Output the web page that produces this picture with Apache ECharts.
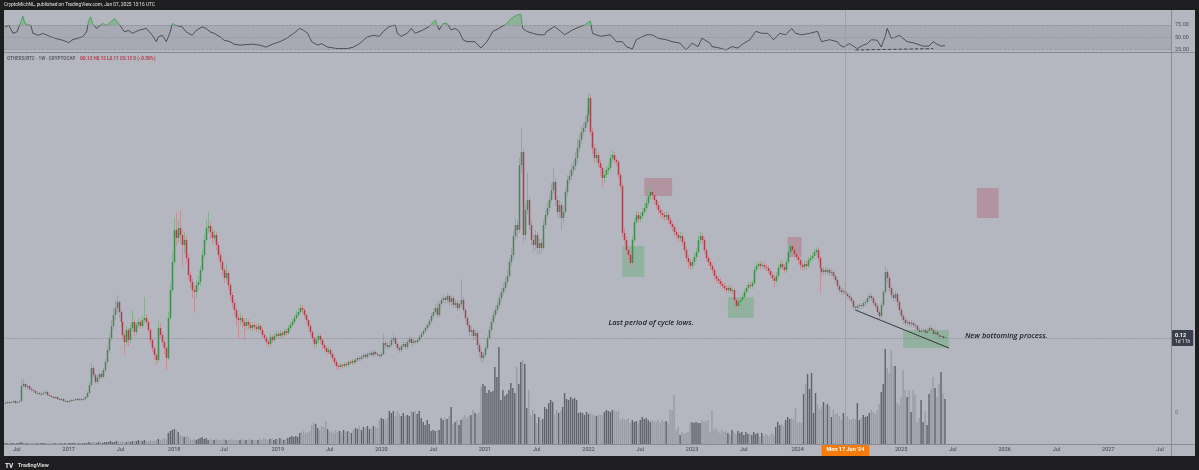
<!DOCTYPE html>
<html><head><meta charset="utf-8">
<script src="https://cdn.jsdelivr.net/npm/echarts@6/dist/echarts.min.js"></script>
<style>
html,body{margin:0;padding:0;background:#1e1e20;width:1199px;height:470px;overflow:hidden}
#bg{position:absolute;left:4px;top:10px;width:1191px;height:446px;background:#b4b7bf}
#chart{position:absolute;left:0;top:0;width:1199px;height:470px}
</style></head><body><div id="bg"></div><div id="chart"></div>
<script>
// ---- axis / time ----
const startMonday = '2016-05-16';   // first weekly candle
const axisWeeks = 586;              // axis runs on to autumn 2027
const tickDates  = ['2016-07-01','2017-01-01','2017-07-01','2018-01-01','2018-07-01','2019-01-01','2019-07-01','2020-01-01','2020-07-01','2021-01-01','2021-07-01','2022-01-01','2022-07-01','2023-01-01','2023-07-01','2024-01-01','2024-07-01','2025-01-01','2025-07-01','2026-01-01','2026-07-01','2027-01-01','2027-07-01'];
const tickLabels = ['Jul','2017','Jul','2018','Jul','2019','Jul','2020','Jul','2021','Jul','2022','Jul','2023','Jul','2024','Jul','2025','Jul','2026','Jul','2027','Jul'];

// ---- OTHERS/BTC weekly prices, in thousandths (x1000) ----
const firstOpenMilli = 55;
const closeMilli = [
55,56,55,56,57,55,56,57,72,74,71,72,69,68,67,65,65,64,64,65,
66,63,62,61,60,61,59,58,59,57,57,56,57,58,58,59,58,59,58,59,
61,65,73,90,83,76,80,84,81,88,96,108,120,132,143,150,156,146,136,123,
116,128,118,130,136,126,133,136,132,138,140,136,128,118,110,103,98,130,123,116,
110,100,140,168,196,228,220,230,223,213,218,200,183,176,168,166,173,176,188,203,
218,230,232,226,220,223,213,203,196,188,180,185,173,163,155,148,140,138,140,136,
132,136,133,130,133,131,129,132,128,123,120,116,114,121,118,122,124,122,125,123,
127,125,130,133,136,140,143,146,150,148,143,138,132,126,120,114,118,122,118,113,
110,106,108,104,100,96,92,91,93,92,94,93,96,95,97,96,98,100,99,101,
103,101,104,105,103,106,104,103,102,104,115,113,111,113,118,120,114,110,108,112,
114,111,116,119,115,117,116,118,121,124,127,130,133,137,142,146,150,143,154,158,
160,158,162,156,160,153,155,150,154,158,148,140,133,126,128,122,125,113,106,100,
103,110,120,128,136,143,148,153,160,166,170,176,182,196,203,222,233,228,293,306,
223,248,258,233,218,213,223,210,215,210,233,243,250,258,268,276,258,246,253,240,
246,266,278,282,288,292,300,310,318,326,330,336,343,360,326,310,300,303,295,290,
280,283,288,290,300,303,298,296,283,272,225,218,208,203,195,218,236,243,239,242,
246,250,255,262,266,263,258,253,248,245,243,241,243,238,234,231,226,223,220,222,
216,208,200,196,192,196,201,206,218,222,218,208,200,196,192,188,182,179,177,174,
172,170,168,170,167,168,158,152,156,158,161,166,170,173,172,175,188,192,194,192,
193,191,190,187,183,180,177,182,190,194,191,188,196,206,212,208,204,201,198,193,
191,194,192,198,200,202,206,208,200,190,186,188,186,188,185,186,182,178,172,168,
166,167,164,162,160,157,151,150,152,153,152,155,156,160,162,160,155,152,146,142,
153,166,186,180,170,163,160,164,156,148,142,138,135,136,134,135,133,132,128,126,
127,128,125,127,130,128,124,126,123,121,122,120,121];
const highMilli = [
57,57,57,57,58,58,57,58,78,79,75,74,73,71,69,68,67,66,66,67,
68,67,64,63,62,62,62,60,60,60,58,58,58,59,59,60,60,60,60,60,
62,67,76,95,92,85,83,86,86,90,99,112,124,138,150,158,163,158,148,138,
126,132,130,134,148,139,136,140,139,142,161,144,138,130,120,112,105,137,135,126,
119,112,146,175,205,240,246,238,248,228,226,222,204,186,180,172,178,182,192,208,
224,238,246,236,230,228,226,216,206,199,191,195,187,175,166,158,150,144,145,143,
139,140,139,136,136,136,134,135,134,130,125,122,118,124,123,125,127,126,128,127,
130,129,133,136,139,143,147,150,154,153,150,145,140,134,128,122,121,125,124,120,
115,112,111,110,106,102,98,94,95,95,96,96,98,98,99,99,100,102,102,103,
105,105,106,107,107,108,108,106,105,106,125,118,116,116,121,125,122,116,112,114,
117,116,118,122,121,120,119,120,123,126,129,132,135,139,145,149,154,158,157,161,
163,162,165,164,163,162,158,158,157,179,161,150,142,136,132,130,128,127,115,108,
106,113,123,132,140,147,152,157,164,170,175,181,188,200,210,228,240,238,300,330,
310,255,285,262,238,224,228,226,220,219,238,248,256,264,275,290,280,262,258,256,
252,270,283,288,294,298,306,320,324,332,336,342,350,365,363,330,314,310,306,298,
292,288,292,295,304,308,306,301,298,286,275,230,222,212,206,222,240,247,246,246,
250,255,260,268,271,270,266,261,256,251,248,246,247,246,241,237,233,229,226,226,
225,219,211,203,199,200,205,210,222,226,225,221,211,203,199,195,190,185,182,180,
177,175,173,173,173,171,170,160,159,161,164,169,173,176,176,178,191,195,197,197,
196,196,194,193,189,186,183,186,193,198,197,194,200,212,216,215,211,207,204,200,
196,198,197,201,203,205,209,211,210,202,193,191,191,191,190,189,188,184,180,174,
170,170,169,166,164,162,159,153,154,155,155,157,158,162,165,164,162,157,154,148,
156,169,191,189,183,173,166,167,166,158,150,144,140,139,138,138,137,135,134,130,
130,131,130,130,133,132,130,129,128,125,124,124,123];
const lowMilli = [
54,54,54,55,55,54,54,55,56,70,69,69,67,66,65,64,63,63,62,63,
64,62,61,60,59,59,58,57,57,56,56,55,55,56,57,57,57,57,57,57,
58,60,64,72,80,74,74,78,79,80,86,94,105,117,128,138,145,140,130,118,
103,112,112,115,127,122,123,130,129,130,135,133,125,114,106,98,93,96,119,112,
104,88,98,137,165,193,212,215,215,191,205,195,178,170,160,145,160,168,172,185,
200,215,225,220,214,216,208,198,190,183,175,177,168,158,150,142,132,120,133,130,
118,128,129,127,127,128,126,126,125,120,117,113,111,112,115,116,120,119,120,120,
121,122,123,128,131,134,138,141,144,145,140,135,129,122,116,110,111,115,114,109,
107,103,104,101,97,93,89,88,89,90,90,91,91,93,93,94,94,96,97,97,
99,99,99,102,101,101,102,101,100,100,103,110,108,109,111,116,111,107,105,106,
110,108,109,114,112,113,114,114,116,119,122,125,128,131,135,140,144,140,141,151,
155,154,155,152,153,150,150,147,147,152,145,136,130,122,122,118,118,108,101,95,
96,101,108,118,126,134,140,145,150,157,162,167,173,180,192,200,218,220,225,285,
215,218,243,228,212,206,208,204,204,205,208,230,240,246,255,264,252,240,240,228,
235,244,262,274,278,284,288,296,306,314,322,326,332,340,322,304,295,296,290,282,
271,275,280,284,287,296,294,292,279,268,220,213,203,198,191,193,215,233,235,236,
239,243,247,252,258,259,254,249,244,241,239,237,238,234,230,227,222,219,216,217,
212,204,196,189,188,189,193,198,204,214,214,204,196,192,188,184,178,175,174,171,
169,167,165,165,164,164,155,148,149,153,155,158,163,167,169,169,173,185,189,189,
189,188,187,184,180,177,171,175,180,188,188,185,186,194,203,204,200,197,194,189,
187,188,188,190,195,197,199,203,196,165,182,183,183,183,182,182,179,175,169,165,
163,163,161,159,157,154,148,147,148,149,149,150,152,154,158,157,152,149,143,139,
140,151,164,175,166,159,156,157,152,144,138,134,132,132,131,131,130,129,125,123,
123,124,122,122,124,125,121,121,120,118,119,117,118];

// ---- weekly volume (relative units) ----
const volume = [
1,1,1,1,1,1,1,1,2,1,1,1,1,1,1,1,1,1,1,1,
1,1,1,1,1,1,1,1,1,1,1,1,1,1,1,1,1,1,1,1,
1,1,2,1,2,2,1,2,2,1,2,2,2,3,2,2,3,2,2,3,
2,2,3,2,3,3,3,4,3,3,4,3,3,4,3,3,4,5,4,5,
6,5,11,13,14,15,14,12,9,8,7,8,7,5,4,5,4,5,6,7,
5,6,4,5,4,4,5,4,4,4,5,4,4,4,5,4,4,4,4,5,
4,4,4,5,4,4,4,4,5,4,6,5,4,5,6,4,5,5,6,5,
4,5,6,7,8,7,8,7,11,12,13,11,12,13,19,21,20,16,14,18,
17,23,15,12,13,11,14,12,13,11,14,12,13,12,11,14,16,15,18,14,
17,16,18,15,16,18,17,16,24,26,25,24,26,33,31,33,28,33,30,28,
31,28,29,28,33,32,33,30,33,26,22,19,24,20,13,14,13,14,14,26,
24,26,25,28,37,20,22,24,19,24,27,29,26,28,29,34,31,30,32,57,
60,58,51,54,52,53,77,67,97,44,54,48,50,54,61,56,51,77,60,82,
84,80,36,54,29,34,30,21,27,24,25,37,35,41,44,42,29,34,31,33,
37,51,45,44,47,45,46,44,31,32,31,29,32,30,31,29,29,28,30,29,
29,32,34,33,32,34,33,32,33,24,26,25,24,26,21,24,22,23,21,24,
27,25,26,24,22,24,23,22,24,21,24,22,23,21,34,34,49,14,17,9,
12,10,11,12,21,22,21,22,21,21,24,22,23,24,12,34,14,16,13,11,
14,12,13,11,9,14,12,10,13,11,12,9,12,10,11,9,12,10,11,7,
11,8,10,9,8,11,9,17,22,19,20,18,24,27,25,26,24,36,21,22,
21,50,60,70,55,71,31,51,40,35,37,42,39,40,38,27,34,30,31,28,
24,31,26,28,25,24,26,25,41,24,26,29,27,28,31,34,32,30,34,40,
52,60,95,76,71,94,78,78,41,39,47,74,54,47,54,32,54,49,22,26,
44,22,33,19,50,55,67,56,47,60,72,50,45];

// ---- RSI(14): [week number, value] ----
const rsiPoints = [[0,71],[2,74],[4,58],[6,61],[7,71],[9,93],[10,78],[11,78],[13,74],[14,58],[17,54],[19,58],[20,59],[23,51],[26,47],[29,44],[32,39],[34,45],[39,51],[41,61],[42,84],[43,92],[44,78],[46,68],[49,78],[50,81],[51,74],[53,81],[55,88],[57,78],[60,61],[62,64],[64,58],[67,64],[71,68],[74,54],[76,41],[77,51],[79,54],[81,41],[83,61],[84,78],[85,81],[86,74],[89,71],[91,61],[94,54],[96,64],[99,71],[101,68],[103,61],[105,58],[108,51],[110,44],[113,41],[115,36],[118,34],[121,35],[124,36],[128,34],[131,30],[135,37],[138,41],[141,47],[145,58],[148,68],[150,64],[152,58],[154,41],[157,34],[159,37],[162,30],[167,27],[168,24],[172,27],[175,30],[178,37],[182,51],[185,54],[188,52],[190,62],[193,72],[196,75],[197,58],[198,62],[199,52],[202,58],[204,68],[206,58],[210,65],[213,72],[216,85],[218,65],[220,78],[222,78],[224,65],[226,68],[228,62],[230,45],[232,41],[236,41],[237,38],[239,28],[242,41],[245,62],[248,68],[252,78],[254,88],[257,95],[259,97],[260,68],[262,62],[265,58],[268,55],[271,55],[272,62],[276,72],[279,62],[281,55],[285,65],[289,72],[291,75],[294,83],[295,58],[299,52],[304,55],[307,41],[310,41],[312,31],[315,26],[317,45],[322,55],[325,55],[328,48],[332,45],[335,41],[339,38],[342,24],[345,38],[348,31],[350,48],[354,38],[355,31],[359,28],[362,24],[365,31],[368,28],[370,35],[374,45],[377,62],[380,58],[383,58],[386,45],[389,58],[392,55],[395,68],[397,58],[400,55],[404,58],[408,62],[410,41],[414,45],[418,41],[419,35],[421,30],[424,37],[428,27],[431,34],[433,37],[435,45],[438,44],[440,30],[441,41],[442,52],[443,68],[445,48],[447,50],[449,54],[453,41],[456,39],[461,32],[464,32],[466,41],[468,36],[470,32],[472,33]];
const rsiLevels = [75, 50, 25];

// ---- drawings ----
const demandZones = [['2022-04-25','2022-07-11',0.181,0.212],['2023-05-01','2023-07-31',0.140,0.161],['2025-01-06','2025-06-16',0.110,0.128]];
const supplyZones = [['2022-07-11','2022-10-17',0.262,0.280],['2023-11-27','2024-01-15',0.201,0.221],['2025-09-22','2025-12-08',0.240,0.270]];
const trendLine = [['2024-07-22',0.148],['2025-06-16',0.110]];
const rsiDivergence = [['2024-07-22',24],['2025-04-21',27]];
const notes = [['2022-03-07',0.135,'Last period of cycle lows.'],['2025-08-11',0.122,'New bottoming process.']];
const crosshairDate = '2024-06-17', crosshairText = "Mon 17 Jun '24";
const lastPrice = 0.12, lastPriceText = '0.12', countdownText = '1d 11h';

// ---- build ----
const DAY = 86400000, t0 = Date.parse(startMonday + 'T00:00:00Z');
const cats = [];
for (let i = 0; i < axisWeeks; i++) cats.push(new Date(t0 + i * 7 * DAY).toISOString().slice(0, 10));
const weekOf = d => Math.floor((Date.parse(d + 'T00:00:00Z') - t0) / (7 * DAY));
const labelAt = {};
tickDates.forEach((d, k) => { labelAt[weekOf(d)] = tickLabels[k]; });
const cat = d => cats[weekOf(d)];

// [week, open, close, low, high]
const candles = closeMilli.map((c, i) => {
  const o = i ? closeMilli[i - 1] : firstOpenMilli;
  return [i, o / 1000, c / 1000, lowMilli[i] / 1000, highMilli[i] / 1000];
});
const volData = volume.map((v, i) => ({ value: v, itemStyle: { color: (candles[i] && candles[i][2] >= candles[i][1]) ? '#5f6269' : '#9a9ca5' } }));

const COL = { bodyUp: '#418a4d', bodyDn: '#a5424f', wickUp: '#8aae93', wickDn: '#c2929c' };
function renderCandle(params, api) {
  const x = api.value(0), o = api.value(1), c = api.value(2), l = api.value(3), h = api.value(4);
  const pO = api.coord([x, o]), pC = api.coord([x, c]), pL = api.coord([x, l]), pH = api.coord([x, h]);
  const up = c >= o;
  const top = Math.min(pO[1], pC[1]), bot = Math.max(pO[1], pC[1]);
  const cx = Math.round(pO[0]) + 0.5;
  return { type: 'group', children: [
    { type: 'line', shape: { x1: cx, y1: pH[1], x2: cx, y2: pL[1] }, style: { stroke: up ? COL.wickUp : COL.wickDn, lineWidth: 1 } },
    { type: 'rect', shape: { x: cx - 0.75, y: top, width: 1.5, height: Math.max(bot - top, 1) }, style: { fill: up ? COL.bodyUp : COL.bodyDn } }
  ] };
}

const FONT = 'Roboto, "Noto Sans", sans-serif';
const chart = echarts.init(document.getElementById('chart'), null, { renderer: 'canvas' });
const option = {
  animation: false,
  textStyle: { fontFamily: FONT },
  title: [
    { text: 'CryptoMichNL, published on TradingView.com, Jun 07, 2025 13:16 UTC', left: 4, top: 2, padding: 0, textStyle: { color: '#e4e4e4', fontSize: 4.8, fontWeight: 'normal', fontFamily: FONT } },
    { text: '{n|OTHERS/BTC · 1W · CRYPTOCAP} {v|O0.12 H0.12 L0.11 C0.12 0 (−0.50%)}', left: 7, top: 56, padding: 0,
      textStyle: { lineHeight: 6, rich: { n: { color: '#5c5f68', fontSize: 4.6, lineHeight: 6, fontFamily: FONT }, v: { color: '#b23c4b', fontSize: 4.6, lineHeight: 6, fontFamily: FONT } } } },
    { text: '{l|TV} {t|TradingView}', left: 5, top: 457, padding: 0,
      textStyle: { rich: { l: { color: '#f0f0f0', fontSize: 6.5, fontWeight: 'bold', fontFamily: FONT }, t: { color: '#d8d8d8', fontSize: 5.5, fontFamily: FONT } } } },
    { text: '0', left: 1175, top: 410, padding: 0, textStyle: { color: '#6b6e77', fontSize: 5.5, fontWeight: 'normal', fontFamily: FONT } }
  ],
  grid: [
    { left: 4, right: 28, top: 10, height: 42.5 },
    { left: 4, right: 28, top: 53, bottom: 26 }
  ],
  xAxis: [
    { type: 'category', gridIndex: 0, data: cats, show: false },
    { type: 'category', gridIndex: 1, data: cats, boundaryGap: true,
      axisLine: { show: false }, axisTick: { show: false }, splitLine: { show: false },
      axisLabel: { interval: i => labelAt[i] !== undefined, formatter: (v, i) => labelAt[i] || '', color: '#3d4049', fontSize: 5.5, margin: 3, fontFamily: FONT } }
  ],
  yAxis: [
    { type: 'value', gridIndex: 0, min: 19, max: 105.5, show: false },
    { type: 'value', gridIndex: 1, min: 0.014, max: 0.405, show: false },
    { type: 'value', gridIndex: 1, min: 0, max: 391, show: false }
  ],
  visualMap: [
    { show: false, type: 'piecewise', seriesIndex: 0, dimension: 1,
      pieces: [{ gt: 75, lte: 200, color: 'rgba(74,170,90,0.55)' }, { gte: -100, lte: 75, color: 'rgba(0,0,0,0)' }] },
    { show: false, type: 'piecewise', seriesIndex: 1, dimension: 1,
      pieces: [{ gt: 75, lte: 200, color: '#3f9a52' }, { gte: -100, lte: 75, color: '#35373d' }] }
  ],
  series: [
    { name: 'RSI fill', type: 'line', xAxisIndex: 0, yAxisIndex: 0, data: rsiPoints, symbol: 'none',
      lineStyle: { width: 0, opacity: 0 }, areaStyle: { origin: 'start' }, silent: true, z: 2 },
    { name: 'RSI', type: 'line', xAxisIndex: 0, yAxisIndex: 0, data: rsiPoints, symbol: 'none',
      lineStyle: { width: 0.8 }, z: 3, silent: true,
      markArea: { silent: true, itemStyle: { color: 'rgba(70,74,86,0.11)' }, data: [[{ yAxis: rsiLevels[2] }, { yAxis: rsiLevels[0] }]] },
      markLine: { silent: true, symbol: 'none', animation: false,
        data: [
          ...rsiLevels.map((lv, k) => ({ yAxis: lv, lineStyle: { color: '#8a8d96', width: 0.7, type: k === 1 ? 'dotted' : 'dashed' },
            label: { show: true, position: 'end', formatter: lv.toFixed(2), color: '#4c4f58', fontSize: 5.5, distance: 4, fontFamily: FONT } })),
          { xAxis: cat(crosshairDate), lineStyle: { color: '#f28a1e', width: 0.8, type: 'solid' }, label: { show: false } },
          [{ coord: [cat(rsiDivergence[0][0]), rsiDivergence[0][1]], lineStyle: { color: '#3a3c42', width: 0.9, type: 'dashed' }, label: { show: false } },
           { coord: [cat(rsiDivergence[1][0]), rsiDivergence[1][1]] }]
        ] } },
    { name: 'Volume', type: 'bar', xAxisIndex: 1, yAxisIndex: 2, data: volData, barWidth: 1.4, silent: true, z: 1 },
    { name: 'OTHERS/BTC', type: 'custom', xAxisIndex: 1, yAxisIndex: 1, data: candles, renderItem: renderCandle, silent: true, z: 4,
      encode: { x: 0, y: [1, 2, 3, 4] }, clip: true,
      markArea: { silent: true, data: [
        ...demandZones.map(z => [{ xAxis: cat(z[0]), yAxis: z[2], itemStyle: { color: 'rgba(88,170,104,0.38)' } }, { xAxis: cat(z[1]), yAxis: z[3] }]),
        ...supplyZones.map(z => [{ xAxis: cat(z[0]), yAxis: z[2], itemStyle: { color: 'rgba(176,92,110,0.38)' } }, { xAxis: cat(z[1]), yAxis: z[3] }])
      ] },
      markLine: { silent: true, symbol: 'none', animation: false, data: [
        { yAxis: lastPrice, lineStyle: { color: '#7f828b', width: 0.7, type: 'dotted' },
          label: { show: true, position: 'end', distance: 1, formatter: '{a|' + lastPriceText + '}\n{b|' + countdownText + '}', backgroundColor: '#3b3f4a', padding: [2, 3, 1, 3], borderRadius: 1,
            rich: { a: { color: '#ffffff', fontSize: 5.5, fontWeight: 'bold', lineHeight: 7, fontFamily: FONT }, b: { color: '#e6e6e6', fontSize: 5, lineHeight: 6, fontFamily: FONT } } } },
        { xAxis: cat(crosshairDate), lineStyle: { color: '#f28a1e', width: 0.8, type: 'solid' },
          label: { show: true, position: 'start', distance: 0, formatter: crosshairText, color: '#ffffff', backgroundColor: '#f57c0c', padding: [3, 5, 3, 5], fontSize: 5.5, fontWeight: 'bold', fontFamily: FONT } },
        [{ coord: [cat(trendLine[0][0]), trendLine[0][1]], lineStyle: { color: '#26282d', width: 0.9, type: 'solid' }, label: { show: false } },
         { coord: [cat(trendLine[1][0]), trendLine[1][1]] }]
      ] },
      markPoint: { silent: true, symbolSize: 0, data: notes.map(n => ({ coord: [cat(n[0]), n[1]], symbol: 'circle', symbolSize: 0,
        label: { show: true, position: 'right', distance: 0, formatter: n[2], color: '#1c1d22', fontSize: 7.5, fontStyle: 'italic', fontWeight: 600, fontFamily: '"Open Sans", ' + FONT } })) } }
  ],
  graphic: [
    { type: 'line', silent: true, shape: { x1: 1171.5, y1: 10, x2: 1171.5, y2: 456 }, style: { stroke: '#878a93', lineWidth: 1 }, z: 10 },
    { type: 'line', silent: true, shape: { x1: 4, y1: 52.5, x2: 1195, y2: 52.5 }, style: { stroke: '#878a93', lineWidth: 1 }, z: 10 },
    { type: 'line', silent: true, shape: { x1: 4, y1: 444.5, x2: 1195, y2: 444.5 }, style: { stroke: '#878a93', lineWidth: 1 }, z: 10 }
  ]
};
chart.setOption(option);
</script></body></html>
